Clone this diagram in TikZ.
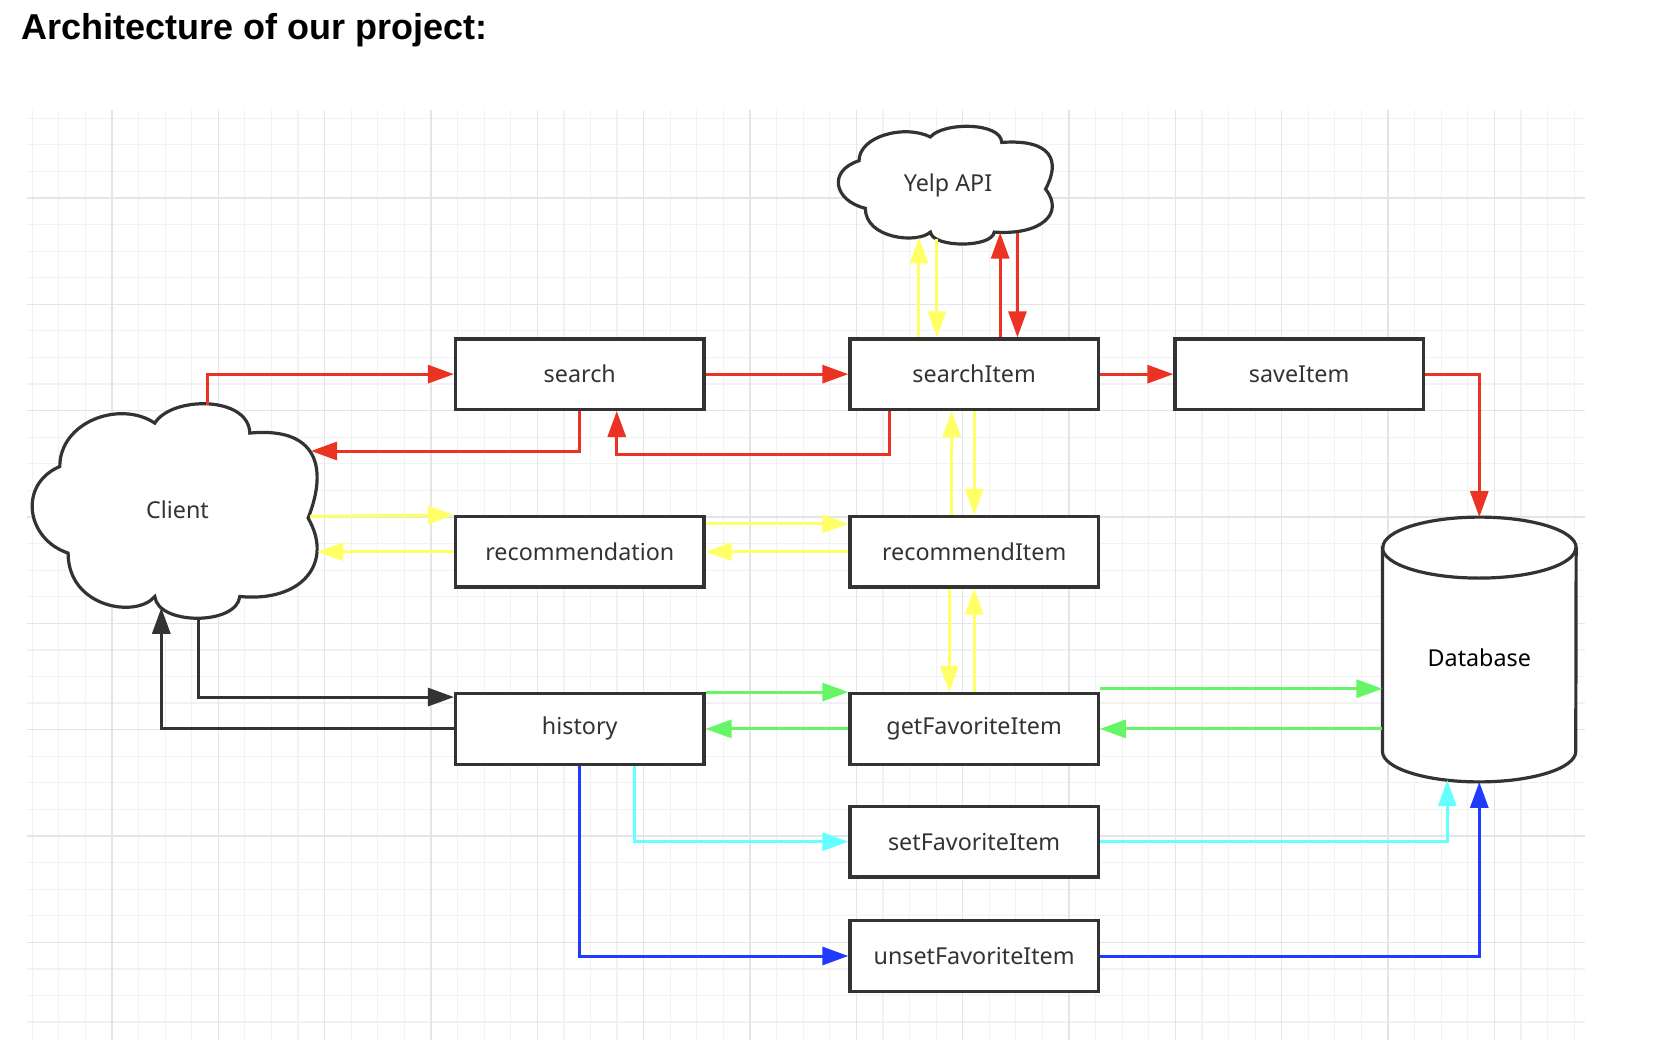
\documentclass[tikz,border=0pt]{standalone}
\usepackage{fontspec}
\setmainfont{Noto Sans}
\newfontfamily\titlefont{Liberation Sans}
\usetikzlibrary{arrows.meta,calc}
\definecolor{cred}{HTML}{EB3323}
\definecolor{cyel}{HTML}{FFFF66}
\definecolor{cgreen}{HTML}{66F566}
\definecolor{ccyan}{HTML}{66FFFF}
\definecolor{cblue}{HTML}{1F3BFF}
\definecolor{cdark}{HTML}{333333}
\definecolor{gminor}{HTML}{F2F2F2}
\definecolor{gmajor}{HTML}{E5E5E5}
\newcommand\lblfont{\fontsize{23.3}{28}\selectfont}
\begin{document}
\begin{tikzpicture}[x=1pt,y=-1pt,
  box/.style={draw=cdark, line width=3.2pt, fill=white, minimum width=248.4pt, minimum height=70.5pt, inner sep=0pt, font=\lblfont, text=cdark},
  conn/.style={line width=3pt, -{Triangle[length=26pt,width=18pt]}},
  shapeline/.style={draw=cdark, line width=3.2pt, fill=white},
]
\useasboundingbox (0,0) rectangle (1674,1054);
\fill[white] (0,0) rectangle (1674,1054);
% grid
\foreach \i in {0,...,58}{
  \pgfmathsetmacro\xx{32.2+26.585*\i}
  \draw[gminor, line width=1.2pt] (\xx,110) -- (\xx,1040);
}
\foreach \i in {0,...,34}{
  \pgfmathsetmacro\yy{118.2+26.585*\i}
  \draw[gminor, line width=1.2pt] (26.7,\yy) -- (1585.4,\yy);
}
\foreach \i in {3,7,...,58}{
  \pgfmathsetmacro\xx{32.2+26.585*\i}
  \draw[gmajor, line width=1.3pt] (\xx,110) -- (\xx,1040);
}
\foreach \i in {3,7,...,34}{
  \pgfmathsetmacro\yy{118.2+26.585*\i}
  \draw[gmajor, line width=1.3pt] (26.7,\yy) -- (1585.4,\yy);
}
% title
\node[anchor=base west, inner sep=0pt, font=\titlefont\bfseries\fontsize{36}{40}\selectfont] (title) at (21,40) {Architecture of our project:};
% clouds
\node[minimum width=285pt, minimum height=215pt, inner sep=0pt] (client) at (175.5,510.5) {};
\begin{scope}[shift={(client.north west)}, xscale=285, yscale=215]
\draw[shapeline] (0.0947,0.2963) .. controls (0.0947,0.0884) and (0.3053,-0.0140) .. (0.4281,0.0944)
 .. controls (0.4877,-0.0326) and (0.7579,-0.0326) .. (0.7614,0.1409)
 .. controls (0.9930,0.1116) and (1.0386,0.2930) .. (0.9660,0.5363)
 .. controls (1.0572,0.7456) and (0.9439,0.9288) .. (0.7263,0.9009)
 .. controls (0.7158,1.0358) and (0.4386,1.0358) .. (0.4281,0.9009)
 .. controls (0.3649,1.0033) and (0.1239,0.9549) .. (0.1239,0.6991)
 .. controls (-0.0235,0.6340) and (-0.0526,0.3800) .. (0.0947,0.2963) -- cycle;
\end{scope}
\node[font=\lblfont, text=cdark] (clientlabel) at ([xshift=2pt,yshift=1pt]client.center) {Client};
\node[minimum width=214pt, minimum height=118pt, inner sep=0pt] (yelp) at (946,185) {};
\begin{scope}[shift={(yelp.north west)}, xscale=214, yscale=118]
\draw[shapeline] (0.0947,0.2963) .. controls (0.0947,0.0884) and (0.3053,-0.0140) .. (0.4281,0.0944)
 .. controls (0.4877,-0.0326) and (0.7579,-0.0326) .. (0.7614,0.1409)
 .. controls (0.9930,0.1116) and (1.0386,0.2930) .. (0.9660,0.5363)
 .. controls (1.0572,0.7456) and (0.9439,0.9288) .. (0.7263,0.9009)
 .. controls (0.7158,1.0358) and (0.4386,1.0358) .. (0.4281,0.9009)
 .. controls (0.3649,1.0033) and (0.1239,0.9549) .. (0.1239,0.6991)
 .. controls (-0.0235,0.6340) and (-0.0526,0.3800) .. (0.0947,0.2963) -- cycle;
\end{scope}
\node[font=\lblfont, text=cdark] (yelplabel) at ([xshift=2pt]yelp.center) {Yelp API};
% database
\node[minimum width=193.3pt, minimum height=264.4pt, inner sep=0pt] (db) at (1479.3,649.5) {};
\draw[shapeline] ([yshift=-30.5pt]db.north west) -- ([yshift=30.5pt]db.south west)
  arc[start angle=180, end angle=360, x radius=96.65pt, y radius=30.5pt]
  -- ([yshift=-30.5pt]db.north east)
  arc[start angle=0, end angle=180, x radius=96.65pt, y radius=30.5pt] -- cycle;
\draw[draw=cdark, line width=3.2pt] ([yshift=-30.5pt]db.north west)
  arc[start angle=180, end angle=360, x radius=96.65pt, y radius=30.5pt];
\node[font=\lblfont, text=black] (dblabel) at ([yshift=-8pt]db.center) {Database};
% boxes
\node[box] (search) at (579.75,374.15) {search};
\node[box] (sitem) at (974.15,374.15) {searchItem};
\node[box] (save) at (1299.15,374.15) {saveItem};
\node[box] (rec) at (579.75,551.7) {recommendation};
\node[box] (ritem) at (974.15,551.7) {recommendItem};
\node[box] (hist) at (579.75,728.9) {history};
\node[box] (getfav) at (974.15,728.9) {getFavoriteItem};
\node[box] (setfav) at (974.15,841.7) {setFavoriteItem};
\node[box] (unsetfav) at (974.15,956) {unsetFavoriteItem};
% attach points on clouds / cylinder
\coordinate (c-rtop) at (207.5,405);
\coordinate (c-rin) at (311,451);
\coordinate (c-yout) at (310,516.45);
\coordinate (c-yin) at (317.3,551.7);
\coordinate (c-dout) at (198.3,617);
\coordinate (c-din) at (161.3,607.8);
\coordinate (y-yu) at (918.95,237.4);
\coordinate (y-yd) at (936.95,239);
\coordinate (y-ru) at (1000.15,232.6);
\coordinate (y-rd) at (1017.45,232.5);
\coordinate (db-c) at (1447.3,780);
\coordinate (g1) at ([yshift=3.3pt]getfav.north east);
% red
\draw[conn, cred] (c-rtop) |- (search.west);
\draw[conn, cred] (search.south) |- (c-rin);
\draw[conn, cred] ([xshift=-85.15pt]sitem.south) -- ++(0,43.3) -| ([xshift=37pt]search.south);
\draw[conn, cred] (search.east) -- (sitem.west);
\draw[conn, cred] (sitem.east) -- (save.west);
\draw[conn, cred] (save.east) -| (db.north);
\draw[conn, cred] ([xshift=26pt]sitem.north) -- (y-ru);
\draw[conn, cred] (y-rd) -- ([xshift=43.3pt]sitem.north);
% yellow
\draw[conn, cyel] ([xshift=-55.2pt]sitem.north) -- (y-yu);
\draw[conn, cyel] (y-yd) -- ([xshift=-37.2pt]sitem.north);
\draw[conn, cyel] ([xshift=-22.5pt]ritem.north) -- ([xshift=-22.5pt]sitem.south);
\draw[conn, cyel] (sitem.south) -- (ritem.north);
\draw[conn, cyel] (c-yout) -- (rec.north west);
\draw[conn, cyel] (rec.west) -- (c-yin);
\draw[conn, cyel] ([yshift=-9pt]rec.north east) -- ([yshift=-9pt]ritem.north west);
\draw[conn, cyel] (ritem.west) -- (rec.east);
\draw[conn, cyel] ([xshift=-24.8pt]ritem.south) -- ([xshift=-24.8pt]getfav.north);
\draw[conn, cyel] (getfav.north) -- (ritem.south);
% dark
\draw[conn, cdark] (c-dout) |- ([yshift=-5pt]hist.north west);
\draw[conn, cdark] (hist.west) -| (c-din);
% green
\draw[conn, cgreen] (hist.north east) -- (getfav.north west);
\draw[conn, cgreen] (getfav.west) -- (hist.east);
\draw[conn, cgreen] (g1) -- (g1 -| db.west);
\draw[conn, cgreen] (getfav.east -| db.west) -- (getfav.east);
% cyan
\draw[conn, ccyan] ([xshift=54.25pt]hist.south) |- (setfav.west);
\draw[conn, ccyan] (setfav.east) -| (db-c);
% blue
\draw[conn, cblue] (hist.south) |- (unsetfav.west);
\draw[conn, cblue] (unsetfav.east) -| (db.south);
\end{tikzpicture}
\end{document}
